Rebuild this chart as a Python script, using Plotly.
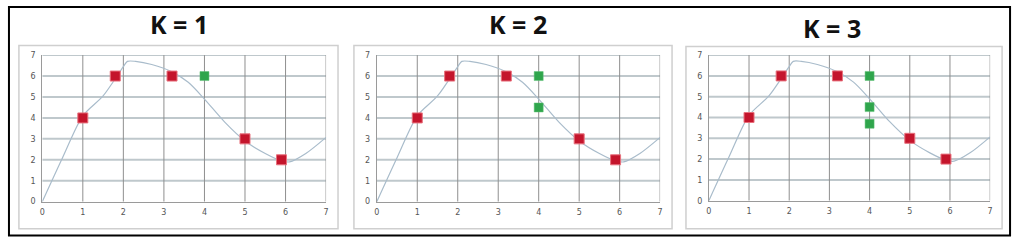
import plotly.graph_objects as go

W, H = 1022, 252

titles = ["K = 1", "K = 2", "K = 3"]
curve_x = [0, 0.5, 1, 1.5, 2.0, 2.1, 2.3, 2.7, 3.2, 3.6, 4, 4.5, 5, 5.5, 5.9, 6.1, 6.5, 7]
curve_y = [0, 2.1, 4.1, 5.05, 6.45, 6.7, 6.7, 6.55, 6.2, 5.7, 4.9, 3.8, 2.9, 2.3, 1.95, 1.9, 2.3, 3.07]
red_x = [1, 1.8, 3.2, 5, 5.9]
red_y = [4, 6, 6, 3, 2]
green_x = [[4], [4, 4], [4, 4, 4]]
green_y = [[6], [6, 4.5], [6, 4.5, 3.7]]
ticks = [0, 1, 2, 3, 4, 5, 6, 7]

# pixel geometry of panels
plots = [(39.5, 325, 53, 205), (376, 661, 53, 205), (710, 993, 53, 204)]
boxes = [(16, 337, 43, 233), (353, 673, 43, 233), (687, 1005, 44, 233)]
title_pos = [(177, 21), (518, 21), (834, 25)]

fig = go.Figure()
shapes = []
annotations = []
layout = {}
for i in range(3):
    xa = "x" if i == 0 else f"x{i+1}"
    ya = "y" if i == 0 else f"y{i+1}"
    x0, x1, y1p, y0p = plots[i]
    bx0, bx1, by0, by1 = boxes[i]
    shapes.append(dict(type="rect", xref="paper", yref="paper", layer="below",
                       x0=bx0 / W, x1=bx1 / W, y0=1 - by1 / H, y1=1 - by0 / H,
                       line=dict(color="#cfcfcf", width=1.5), fillcolor="white"))
    tx, ty = title_pos[i]
    annotations.append(dict(text=titles[i], xref="paper", yref="paper", x=tx / W, y=1 - ty / H,
                            xanchor="center", yanchor="middle", showarrow=False,
                            font=dict(family="Open Sans", size=25, color="#111111", weight="bold")))
    for t in ticks[1:]:
        shapes.append(dict(type="line", xref=xa, yref=ya, x0=0, x1=7, y0=t, y1=t, layer="below",
                           line=dict(color="#bfc8cc", width=2)))
    for t in ticks[1:]:
        shapes.append(dict(type="line", xref=xa, yref=ya, x0=t, x1=t, y0=0, y1=7, layer="below",
                           line=dict(color="#8f8f8f", width=1)))
    layout[("xaxis" if i == 0 else f"xaxis{i+1}")] = dict(
        domain=[x0 / W, x1 / W], range=[0, 7], tickvals=ticks, showgrid=False, zeroline=False,
        showline=True, linecolor="#9a9a9a", linewidth=1, ticks="", anchor=ya, ticklabelstandoff=3,
        tickfont=dict(family="DejaVu Sans", size=8, color="#555"), fixedrange=True)
    layout[("yaxis" if i == 0 else f"yaxis{i+1}")] = dict(
        domain=[1 - y0p / H, 1 - y1p / H], range=[0, 7], tickvals=ticks, showgrid=False, zeroline=False,
        showline=True, linecolor="#9a9a9a", linewidth=1, ticks="", anchor=xa, ticklabelstandoff=4,
        tickfont=dict(family="DejaVu Sans", size=8, color="#555"), fixedrange=True)
    fig.add_trace(go.Scatter(x=curve_x, y=curve_y, xaxis=xa, yaxis=ya, mode="lines",
                             line=dict(color="#a9bccb", width=1.2, shape="spline", smoothing=0.8),
                             hoverinfo="skip", showlegend=False))
    fig.add_trace(go.Scatter(x=red_x, y=red_y, xaxis=xa, yaxis=ya, mode="markers",
                             marker=dict(symbol="square", size=10, color="#c4152c",
                                         line=dict(color="#e8707c", width=1)), showlegend=False))
    fig.add_trace(go.Scatter(x=green_x[i], y=green_y[i], xaxis=xa, yaxis=ya, mode="markers",
                             marker=dict(symbol="square", size=9, color="#2fa54c",
                                         line=dict(color="#5cc074", width=0.5)), showlegend=False))

shapes.append(dict(type="rect", xref="paper", yref="paper", x0=6 / W, x1=1013 / W,
                   y0=1 - 240 / H, y1=1 - 3 / H, line=dict(color="black", width=2)))

fig.update_layout(width=W, height=H, margin=dict(l=0, r=0, t=0, b=0),
                  paper_bgcolor="white", plot_bgcolor="rgba(0,0,0,0)",
                  shapes=shapes, annotations=annotations, **layout)
fig.write_html("out.html")
